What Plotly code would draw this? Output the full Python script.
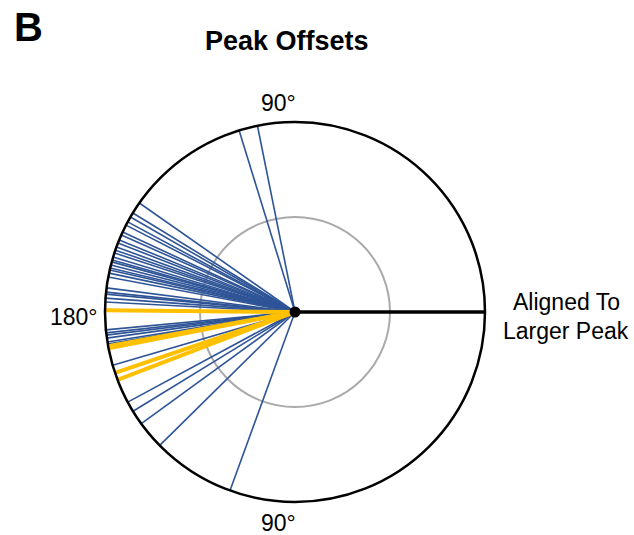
import plotly.graph_objects as go

# Peak offset angles (degrees)
blue_angles = [101.4, 107.1,
               145.0, 148.6, 150.0, 151.7, 152.8, 155.1, 156.1, 157.7, 158.7,
               160.0, 161.0, 161.9, 163.2, 164.1, 164.7, 165.7, 166.6, 167.2,
               168.2, 169.4, 172.7, 174.0, 174.6, 175.8, 177.0,
               185.4, 186.3, 187.0, 187.9, 189.1, 189.7, 196.3,
               208.3, 211.5, 216.0, 224.6, 250.0]
yellow_angles = [179.5, 190.4, 191.0, 198.7, 200.9]
reference_angle = [0.0]
inner_ring = [0.5]

def spokes(angles):
    r, t = [], []
    for a in angles:
        r += [0, 1, None]
        t += [a, a, None]
    return r, t

fig = go.Figure()
rb, tb = spokes(blue_angles)
fig.add_trace(go.Scatterpolar(r=rb, theta=tb, mode="lines",
                              line=dict(color="#2F5597", width=1.6),
                              hoverinfo="skip", showlegend=False))
ry, ty = spokes(yellow_angles)
fig.add_trace(go.Scatterpolar(r=ry, theta=ty, mode="lines",
                              line=dict(color="#FFC000", width=4),
                              hoverinfo="skip", showlegend=False))
rk, tk = spokes(reference_angle)
fig.add_trace(go.Scatterpolar(r=rk, theta=tk, mode="lines",
                              line=dict(color="black", width=3.5),
                              hoverinfo="skip", showlegend=False))
fig.add_trace(go.Scatterpolar(r=[0], theta=[0], mode="markers",
                              marker=dict(color="black", size=11),
                              hoverinfo="skip", showlegend=False))

cx, cy, R = 295, 312, 190
W, H = 634, 535
fig.update_layout(
    width=W, height=H,
    margin=dict(l=0, r=0, t=0, b=0),
    paper_bgcolor="white",
    font=dict(family="Liberation Sans, Arial", color="black"),
    polar=dict(
        domain=dict(x=[(cx - R) / W, (cx + R) / W],
                    y=[(H - cy - R) / H, (H - cy + R) / H]),
        bgcolor="white",
        radialaxis=dict(range=[0, 1], showline=False, showticklabels=False,
                        ticks="", tickvals=inner_ring, showgrid=True,
                        gridcolor="#AAAAAA", gridwidth=2),
        angularaxis=dict(showline=True, linecolor="black", linewidth=2.5,
                         showgrid=False, showticklabels=False, ticks="",
                         direction="counterclockwise", rotation=0),
    ),
)

def ann(x, y, text, size, bold=False, xanchor="center"):
    fig.add_annotation(x=x / W, y=1 - y / H, xref="paper", yref="paper",
                       text=f"<b>{text}</b>" if bold else text,
                       showarrow=False, font=dict(size=size),
                       xanchor=xanchor, yanchor="middle")

ann(28, 27, "B", 40, bold=True)
ann(287, 41, "Peak Offsets", 27, bold=True)
ann(278, 103, "90°", 23)
ann(278, 523, "90°", 23)
ann(74, 317, "180°", 23)
ann(566, 302, "Aligned To", 23)
ann(566, 331, "Larger Peak", 23)

fig.write_html("out.html")
